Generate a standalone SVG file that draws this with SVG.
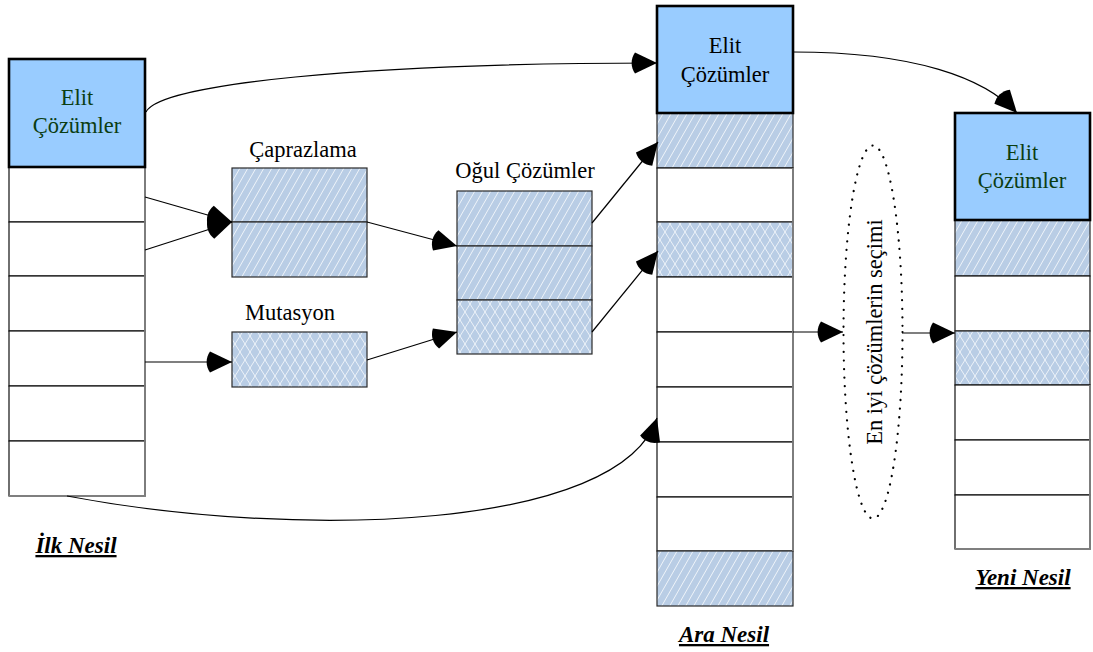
<svg xmlns="http://www.w3.org/2000/svg" width="1093" height="652" viewBox="0 0 1093 652" font-family="'Liberation Serif', 'Times New Roman', Times, 'DejaVu Serif', serif">
  <style>
    text { font-family: 'Liberation Serif', 'Times New Roman', Times, 'DejaVu Serif', serif; }
    .txt { font-size: 22.5px; fill: #000; }
    .elit-txt { font-size: 22.5px; text-anchor: middle; }
    .green { fill: #0b3d12; }
    .lbl { font-size: 23px; font-weight: bold; font-style: italic; text-decoration: underline; text-anchor: middle; fill: #000; }
    .elit { fill: #99ccff; stroke: #000; stroke-width: 2.6; }
    .row { fill: #fff; stroke: #111; stroke-width: 1.2; }
    .diag { fill: url(#hatchDiag); stroke: #2a2a2a; stroke-width: 1.2; }
    .cross { fill: url(#hatchCross); stroke: #2a2a2a; stroke-width: 1.2; }
    .edge { stroke: #7f7f7f; stroke-width: 1.8; fill: none; }
    .conn { fill: none; stroke: #000; stroke-width: 1.2; marker-end: url(#head); }
  </style>
  <defs>
    <pattern id="hatchDiag" patternUnits="userSpaceOnUse" width="8" height="14">
      <rect width="8" height="14" fill="#b9cde5"/>
      <path d="M0,14 L8,0 M-8,14 L0,0 M8,14 L16,0" stroke="#ffffff" stroke-width="0.9" stroke-opacity="0.85"/>
    </pattern>
    <pattern id="hatchCross" patternUnits="userSpaceOnUse" width="10" height="16">
      <rect width="10" height="16" fill="#b9cde5"/>
      <path d="M0,16 L10,0 M0,0 L10,16 M-10,16 L0,0 M10,16 L20,0 M-10,0 L0,16 M10,0 L20,16" stroke="#ffffff" stroke-width="0.9" stroke-opacity="0.8"/>
    </pattern>
    <marker id="head" markerUnits="userSpaceOnUse" viewBox="-26 -12 27 24" markerWidth="27" markerHeight="24" refX="0" refY="0" orient="auto">
      <path d="M0,0 L-22,-10.5 C-26.5,-4 -26.5,4 -22,10.5 Z" fill="#000"/>
    </marker>
  </defs>

  <!-- first generation -->
  <g id="ilk-nesil">
    <rect class="row" x="9" y="167" width="136" height="55"/>
    <rect class="row" x="9" y="222" width="136" height="54"/>
    <rect class="row" x="9" y="276" width="136" height="55"/>
    <rect class="row" x="9" y="331" width="136" height="55"/>
    <rect class="row" x="9" y="386" width="136" height="55"/>
    <rect class="row" x="9" y="441" width="136" height="55"/>
    <path class="edge" d="M145,167 V496 H9"/>
    <rect class="elit" x="9" y="59" width="136" height="108"/>
    <text class="elit-txt green" x="77" y="105">Elit</text>
    <text class="elit-txt green" x="77" y="133">Çözümler</text>
    <text class="lbl" x="76" y="553">İlk Nesil</text>
  </g>

  <!-- crossover -->
  <g id="caprazlama">
    <rect class="diag" x="232" y="168" width="135" height="54"/>
    <rect class="diag" x="232" y="222" width="135" height="55"/>
    <text class="txt" x="303" y="157" text-anchor="middle">Çaprazlama</text>
  </g>

  <!-- mutation -->
  <g id="mutasyon">
    <rect class="cross" x="232" y="332" width="135" height="55"/>
    <text class="txt" x="290" y="320" text-anchor="middle">Mutasyon</text>
  </g>

  <!-- offspring -->
  <g id="ogul-cozumler">
    <rect class="diag" x="457" y="191" width="135" height="55"/>
    <rect class="diag" x="457" y="246" width="135" height="54"/>
    <rect class="cross" x="457" y="300" width="135" height="54"/>
    <text class="txt" x="525" y="178" text-anchor="middle">Oğul Çözümler</text>
  </g>

  <!-- intermediate generation -->
  <g id="ara-nesil">
    <rect class="diag" x="657" y="113" width="136" height="55"/>
    <rect class="row" x="657" y="168" width="136" height="54"/>
    <rect class="cross" x="657" y="222" width="136" height="55"/>
    <rect class="row" x="657" y="277" width="136" height="55"/>
    <rect class="row" x="657" y="332" width="136" height="55"/>
    <rect class="row" x="657" y="387" width="136" height="55"/>
    <rect class="row" x="657" y="442" width="136" height="55"/>
    <rect class="row" x="657" y="497" width="136" height="54"/>
    <rect class="diag" x="657" y="551" width="136" height="55"/>
    <path class="edge" d="M793,168 V551"/>
    <rect class="elit" x="657" y="6" width="136" height="107"/>
    <text class="elit-txt" x="725" y="53">Elit</text>
    <text class="elit-txt" x="725" y="82">Çözümler</text>
    <text class="lbl" x="724" y="642">Ara Nesil</text>
  </g>

  <!-- selection -->
  <g id="secim">
    <ellipse cx="873" cy="332" rx="29.5" ry="186.5" fill="none" stroke="#000" stroke-width="2.2" stroke-dasharray="0.1 8.4" stroke-linecap="round"/>
    <text class="txt" transform="translate(882,332) rotate(-90)" text-anchor="middle">En iyi çözümlerin seçimi</text>
  </g>

  <!-- new generation -->
  <g id="yeni-nesil">
    <rect class="diag" x="955" y="220" width="135" height="56"/>
    <rect class="row" x="955" y="276" width="135" height="55"/>
    <rect class="cross" x="955" y="331" width="135" height="54"/>
    <rect class="row" x="955" y="385" width="135" height="55"/>
    <rect class="row" x="955" y="440" width="135" height="55"/>
    <rect class="row" x="955" y="495" width="135" height="54"/>
    <path class="edge" d="M1090,385 V549 H955"/>
    <rect class="elit" x="955" y="113" width="135" height="107"/>
    <text class="elit-txt green" x="1022" y="160">Elit</text>
    <text class="elit-txt green" x="1022" y="188">Çözümler</text>
    <text class="lbl" x="1023" y="585">Yeni Nesil</text>
  </g>

  <!-- connectors -->
  <g id="connectors">
    <path class="conn" d="M146,112 C160,84 360,63 657,63"/>
    <path class="conn" d="M793,52 C915,52 985,78 1017,113"/>
    <path class="conn" d="M145,197 L232,222"/>
    <path class="conn" d="M145,250 L232,222"/>
    <path class="conn" d="M145,362 L232,362"/>
    <path class="conn" d="M367,222 L457,246"/>
    <path class="conn" d="M367,360 L457,332"/>
    <path class="conn" d="M592,223 L658,142"/>
    <path class="conn" d="M592,332 L658,251"/>
    <path class="conn" d="M67,496 C300,540 620,530 657,418"/>
    <path class="conn" d="M793,332 L843,332"/>
    <path class="conn" d="M902,333 L955,333"/>
  </g>
</svg>
